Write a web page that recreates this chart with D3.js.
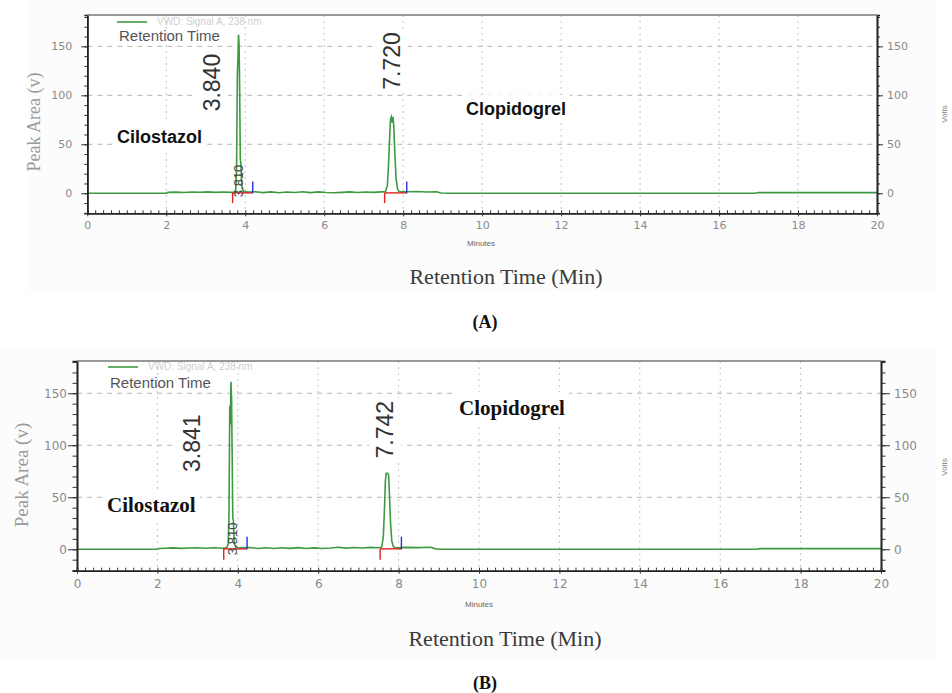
<!DOCTYPE html>
<html>
<head>
<meta charset="utf-8">
<script src="https://cdn.jsdelivr.net/npm/d3@7/dist/d3.min.js"></script>
<style>
  body { margin: 0; background: #fff; }
  svg { display: block; }
</style>
</head>
<body>
<svg id="chart" width="952" height="693"></svg>
<script>
// ---- data ----
const xTicks = [0, 2, 4, 6, 8, 10, 12, 14, 16, 18, 20];
const yTicks = [0, 50, 100, 150];
const gridY = [50, 100, 150];

// [minutes, volts]
const traceA = [
  [0, 0], [2.00, 0], [2.05, 0.9], [2.25, 1.2], [2.45, 0.8], [2.65, 1.3], [2.85, 1.0], [3.05, 1.4],
  [3.25, 0.9], [3.45, 1.3], [3.62, 0.9], [3.72, 1.2], [3.76, 4], [3.78, 25], [3.80, 120], [3.815, 138],
  [3.83, 162], [3.845, 150], [3.86, 100], [3.875, 35], [3.89, 30], [3.91, 8], [3.95, 2], [4.05, 1.2],
  [4.25, 1.6], [4.45, 0.7], [4.65, 1.4], [4.85, 0.6], [5.05, 1.3], [5.25, 0.8], [5.45, 1.5], [5.65, 0.7],
  [5.85, 1.4], [6.05, 0.8], [6.25, 0.5], [6.45, 0.9], [6.65, 1.4], [6.85, 0.8], [7.05, 1.3], [7.25, 0.9],
  [7.45, 1.4], [7.55, 1.5], [7.60, 8], [7.63, 30], [7.66, 60], [7.68, 76], [7.70, 78], [7.72, 72],
  [7.74, 78], [7.76, 70], [7.79, 40], [7.82, 15], [7.86, 4], [7.90, 1.6], [8.10, 1.5], [8.35, 1.8],
  [8.60, 1.3], [8.85, 1.6], [8.95, 0.2], [9.10, 0], [16.9, 0], [17.0, 0.7], [20, 0.7]
];
const traceB = [
  [0, 0], [2.00, 0], [2.05, 0.8], [2.20, 1.0], [2.40, 1.3], [2.60, 0.9], [2.80, 1.2], [3.00, 1.5],
  [3.20, 1.0], [3.40, 1.4], [3.60, 1.0], [3.72, 1.3], [3.76, 5], [3.78, 30], [3.80, 138], [3.815, 120],
  [3.83, 161], [3.845, 145], [3.86, 90], [3.875, 30], [3.89, 28], [3.91, 6], [3.95, 2], [4.05, 1.3],
  [4.30, 1.7], [4.50, 0.8], [4.70, 1.5], [4.90, 0.7], [5.10, 1.4], [5.30, 0.9], [5.50, 1.6], [5.70, 0.8],
  [5.90, 1.3], [6.10, 0.7], [6.30, 1.2], [6.50, 2.0], [6.70, 1.1], [6.90, 1.7], [7.10, 1.2], [7.30, 1.8],
  [7.50, 1.4], [7.58, 2], [7.62, 12], [7.65, 40], [7.67, 65], [7.69, 73], [7.72, 73], [7.75, 72],
  [7.77, 55], [7.80, 25], [7.83, 8], [7.87, 2.5], [7.92, 1.5], [8.20, 1.8], [8.50, 1.6], [8.80, 1.9],
  [8.92, 0.4], [9.05, 0], [16.9, 0], [17.0, 0.6], [20, 0.6]
];

// integration baselines: [start, end] in minutes
const baselinesA = [[3.68, 4.19], [7.53, 8.09]];
const baselinesB = [[3.65, 4.23], [7.54, 8.07]];

// peak labels: retention time text, anchor rt, height (volts) of label centre
const peaksA = [{text: "3.840", rt: 3.84, v: 113}, {text: "7.720", rt: 7.72, v: 135}];
const peaksB = [{text: "3.841", rt: 3.841, v: 102}, {text: "7.742", rt: 7.742, v: 115}];
const smallA = {text: "3.810", rt: 3.81, v: 12.6};
const smallB = {text: "3.810", rt: 3.81, v: 10};

const drugNames = ["Cilostazol", "Clopidogrel"];
const legendTitle = "Retention Time";
const signalName = "VWD: Signal A, 238 nm";

// ---- layout for each panel ----
const panels = [
  {
    tag: "(A)", trace: traceA, baselines: baselinesA, peaks: peaksA, small: smallA,
    x0: 87.3, x1: 877, yTop: 15, yBot: 213.3, yMin: -20.45, yMax: 182,
    bg: [28, 0, 908, 292], tickLen: 6, labelPad: 9, tickFont: 11,
    peakDx: [-19, 7.5], smallDx: 5,
    nameFont: "'Liberation Sans', Arial, sans-serif", nameSize: 18,
    names: [[117, 143], [466, 115]],
    legend: {x: 117, y: 22, titleY: 41},
    yLabel: [40, 122], yLabelSize: 18,
    volts: [947, 114],
    minutes: [481, 246], xTitle: [506, 284], tagPos: [485, 328], xLabelDy: 19
  },
  {
    tag: "(B)", trace: traceB, baselines: baselinesB, peaks: peaksB, small: smallB,
    x0: 77, x1: 881, yTop: 361, yBot: 570.7, yMin: -20.6, yMax: 181,
    bg: [0, 350, 936, 308], tickLen: 9, labelPad: 1, tickFont: 12,
    peakDx: [-31, 5], smallDx: 7,
    nameFont: "'Liberation Serif', 'Times New Roman', serif", nameSize: 21,
    names: [[107, 512], [459, 415]],
    legend: {x: 108, y: 367, titleY: 388},
    yLabel: [28, 475], yLabelSize: 19,
    volts: [947, 467],
    minutes: [479, 607], xTitle: [505, 646], tagPos: [485, 689], xLabelDy: 20
  }
];

const svg = d3.select("#chart");
const green = "#3d9a40";

// white box behind a text node (like the pasted labels in the original)
function boxed(parent, transform, pad, build) {
  const g = parent.append("g").attr("transform", transform);
  const r = g.append("rect").attr("fill", "#fff");
  const t = build(g.append("text"));
  const b = t.node().getBBox();
  r.attr("x", b.x - pad).attr("y", b.y - pad)
    .attr("width", b.width + pad * 2).attr("height", b.height + pad * 2);
  return g;
}

panels.forEach(p => {
  const x = d3.scaleLinear().domain([0, 20]).range([p.x0, p.x1]);
  const y = d3.scaleLinear().domain([p.yMin, p.yMax]).range([p.yBot, p.yTop]);
  const g = svg.append("g");

  // faint sheet behind the whole figure + white plot area
  g.append("rect").attr("x", p.bg[0]).attr("y", p.bg[1])
    .attr("width", p.bg[2]).attr("height", p.bg[3]).attr("fill", "#fcfcfc");
  g.append("rect").attr("x", p.x0).attr("y", p.yTop)
    .attr("width", p.x1 - p.x0).attr("height", p.yBot - p.yTop).attr("fill", "#fff");

  // grid
  g.selectAll(".hgrid").data(gridY).enter().append("line")
    .attr("x1", p.x0).attr("x2", p.x1)
    .attr("y1", d => y(d)).attr("y2", d => y(d))
    .attr("stroke", "#b5b5b5").attr("stroke-dasharray", "5,5");
  g.selectAll(".vgrid").data(xTicks.filter(d => d > 0 && d < 20)).enter().append("line")
    .attr("x1", d => x(d)).attr("x2", d => x(d))
    .attr("y1", p.yTop).attr("y2", p.yBot)
    .attr("stroke", "#c4c4c4").attr("stroke-dasharray", "2,4");

  // chromatogram
  const line = d3.line().x(d => x(d[0])).y(d => y(d[1]));
  g.append("path").datum(p.trace)
    .attr("d", line).attr("fill", "none")
    .attr("stroke", green).attr("stroke-width", 1.6);

  // integration marks
  p.baselines.forEach(b => {
    g.append("line").attr("x1", x(b[0])).attr("x2", x(b[1]))
      .attr("y1", y(0.4)).attr("y2", y(0.4))
      .attr("stroke", "#e02020").attr("stroke-width", 1.4);
    g.append("line").attr("x1", x(b[0])).attr("x2", x(b[0]))
      .attr("y1", y(0.4)).attr("y2", y(-10))
      .attr("stroke", "#e02020").attr("stroke-width", 1.4);
    g.append("line").attr("x1", x(b[1])).attr("x2", x(b[1]))
      .attr("y1", y(0)).attr("y2", y(12))
      .attr("stroke", "#2030e0").attr("stroke-width", 1.4);
  });

  // small overlapped label at the foot of the first peak
  g.append("text")
    .attr("transform", `translate(${x(p.small.rt) + p.smallDx},${y(p.small.v)}) rotate(-90)`)
    .attr("text-anchor", "middle")
    .attr("font-family", "'Liberation Sans', Arial, sans-serif")
    .attr("font-size", 13).attr("fill", "#444")
    .text(p.small.text);

  // peak retention-time labels
  p.peaks.forEach((pk, i) => {
    boxed(g, `translate(${x(pk.rt) + p.peakDx[i]},${y(pk.v)}) rotate(-90)`, 3, t =>
      t.attr("text-anchor", "middle")
        .attr("font-family", "'Liberation Sans', Arial, sans-serif")
        .attr("font-size", 23).attr("fill", "#333")
        .text(pk.text));
  });

  // drug names
  drugNames.forEach((n, i) => {
    boxed(g, `translate(${p.names[i][0]},${p.names[i][1]})`, 4, t =>
      t.attr("font-family", p.nameFont).attr("font-weight", "bold")
        .attr("font-size", p.nameSize).attr("fill", "#111")
        .text(n));
  });

  // legend
  g.append("line").attr("x1", p.legend.x).attr("x2", p.legend.x + 30)
    .attr("y1", p.legend.y).attr("y2", p.legend.y)
    .attr("stroke", green).attr("stroke-width", 1.6);
  g.append("text").attr("x", p.legend.x + 40).attr("y", p.legend.y + 3)
    .attr("font-family", "'Liberation Sans', Arial, sans-serif")
    .attr("font-size", 10).attr("fill", "#cfcfcf").text(signalName);
  g.append("text").attr("x", p.legend.x + 2).attr("y", p.legend.titleY)
    .attr("font-family", "'Liberation Sans', Arial, sans-serif")
    .attr("font-size", 15).attr("fill", "#555").text(legendTitle);

  // axes
  const styleAxis = sel => {
    sel.select(".domain").attr("stroke", "#222").attr("stroke-width", 1.6);
    sel.selectAll(".tick line").attr("stroke", "#333");
    sel.selectAll(".tick text").attr("fill", "#8a8a8a")
      .attr("font-family", "'DejaVu Sans', Verdana, sans-serif")
      .attr("font-size", p.tickFont);
  };
  const minorY = d3.range(-20, 181, 10);
  const minorX = d3.range(0, 20.01, 0.2);

  g.append("g").attr("transform", `translate(${p.x0},0)`)
    .call(d3.axisLeft(y).tickValues(minorY).tickSize(p.tickLen / 2).tickFormat(""))
    .call(styleAxis);
  g.append("g").attr("transform", `translate(${p.x0},0)`)
    .call(d3.axisLeft(y).tickValues(yTicks).tickSize(p.tickLen).tickSizeOuter(0).tickPadding(p.labelPad))
    .call(styleAxis);

  g.append("g").attr("transform", `translate(${p.x1},0)`)
    .call(d3.axisRight(y).tickValues(minorY).tickSize(p.tickLen / 2).tickFormat(""))
    .call(styleAxis);
  g.append("g").attr("transform", `translate(${p.x1},0)`)
    .call(d3.axisRight(y).tickValues(yTicks).tickSize(p.tickLen).tickSizeOuter(0).tickPadding(4))
    .call(styleAxis);

  g.append("g").attr("transform", `translate(0,${p.yBot})`)
    .call(d3.axisTop(x).tickValues(minorX).tickSize(3).tickFormat(""))
    .call(styleAxis);
  g.append("g").attr("transform", `translate(0,${p.yBot})`)
    .call(d3.axisBottom(x).tickValues(xTicks).tickSize(3).tickSizeOuter(0).tickPadding(p.xLabelDy - 14))
    .call(styleAxis);

  // top frame
  g.append("line").attr("x1", p.x0).attr("x2", p.x1)
    .attr("y1", p.yTop).attr("y2", p.yTop)
    .attr("stroke", "#777").attr("stroke-width", 1.5);

  // titles
  g.append("text").attr("transform", `translate(${p.yLabel[0]},${p.yLabel[1]}) rotate(-90)`)
    .attr("text-anchor", "middle")
    .attr("font-family", "'Liberation Serif', 'Times New Roman', serif")
    .attr("font-size", p.yLabelSize).attr("fill", "#9a9a9a")
    .text("Peak Area (v)");
  g.append("text").attr("transform", `translate(${p.volts[0]},${p.volts[1]}) rotate(-90)`)
    .attr("text-anchor", "middle")
    .attr("font-family", "'Liberation Sans', Arial, sans-serif")
    .attr("font-size", 8).attr("fill", "#777").text("Volts");
  g.append("text").attr("x", p.minutes[0]).attr("y", p.minutes[1])
    .attr("text-anchor", "middle")
    .attr("font-family", "'Liberation Sans', Arial, sans-serif")
    .attr("font-size", 8).attr("fill", "#666").text("Minutes");
  g.append("text").attr("x", p.xTitle[0]).attr("y", p.xTitle[1])
    .attr("text-anchor", "middle")
    .attr("font-family", "'Liberation Serif', 'Times New Roman', serif")
    .attr("font-size", 22).attr("fill", "#3a3a3a")
    .text("Retention Time (Min)");
  g.append("text").attr("x", p.tagPos[0]).attr("y", p.tagPos[1])
    .attr("text-anchor", "middle")
    .attr("font-family", "'Liberation Serif', 'Times New Roman', serif")
    .attr("font-weight", "bold")
    .attr("font-size", 18).attr("fill", "#111")
    .text(p.tag);
});
</script>
</body>
</html>
